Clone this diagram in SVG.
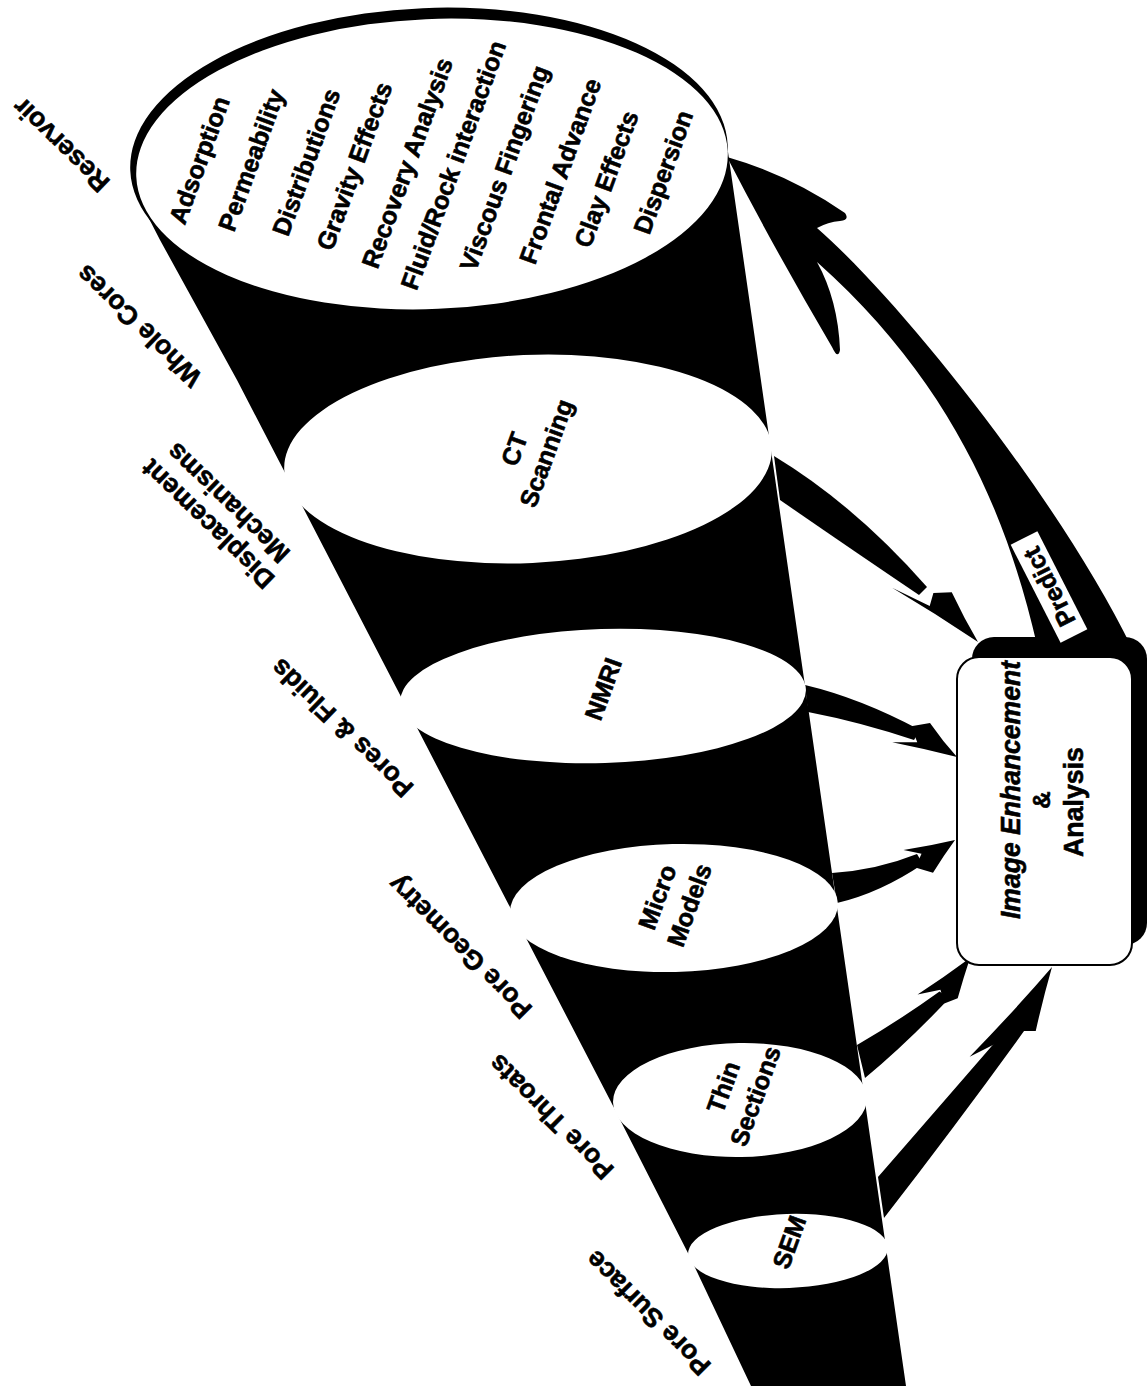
<svg xmlns="http://www.w3.org/2000/svg" width="1147" height="1386" viewBox="0 0 1147 1386">
<style>
.blk{fill:#000}
.wht{fill:#fff}
.t{font-family:"Liberation Sans",Arial,Helvetica,sans-serif;font-weight:bold;fill:#000;stroke:#000;stroke-width:0.6;text-anchor:middle}
.et{font-size:25px}
.lb{font-size:26.5px}
.bx{font-size:27px}
</style>
<rect width="1147" height="1386" fill="#fff"/>
<g id="cone">
<path class="blk" d="M300,160 L142,205 L160,240 L237,380 L470,830 L610,1100 L690,1257 L751,1386 L906,1386 L728,152 Z"/>
</g>
<g id="connectors">
<path id="arrow-ct" class="blk" d="M774,456 Q855,505 927,587 L919,595 Q845,545 780,500 Z"/>
<path class="blk" transform="translate(978,642) rotate(42.5)" d="M0,0 Q-26,-8 -53,-19 L-66,-6 L-60,6 L-100,18 Q-50,7.5 0,0 Z"/>
<path id="arrow-nmri" class="blk" d="M805,685 Q860,698 920,730 L914,740 Q860,722 808,712 Z"/>
<path class="blk" transform="translate(957,757) rotate(28.6)" d="M0,0 Q-20,-7 -40,-17 L-55,-5 L-42,6 L-64,18 Q-32,8 0,0 Z"/>
<path id="arrow-micro" class="blk" d="M832,873 Q877,870 917,854 L923,864 Q880,893 837,903 Z"/>
<path class="blk" transform="translate(955,840) rotate(-28.8)" d="M0,0 Q-25,-7 -50,-16 L-36,-4 L-48,5 L-35,18 Q-17,8 0,0 Z"/>
<path id="arrow-thin" class="blk" d="M857,1045 Q900,1020 939.5,991.5 L949.3,998.3 Q905,1045 865,1078 Z"/>
<path class="blk" transform="translate(970,958) rotate(-55)" d="M0,0 Q-30,-10 -60,-22 L-43,-6 L-52,5 L-40,13 Q-20,6 0,0 Z"/>
<path id="arrow-sem" class="blk" d="M878,1177 Q945,1100 1017.4,1016.5 L1029.8,1023.1 Q960,1120 884,1218 Z"/>
<path class="blk" transform="translate(1052,967) rotate(-61.7)" d="M0,0 Q-59,-13 -118,-30 L-88,-9 L-70,5 L-64,16 Q-32,7 0,0 Z"/>
<path id="arrow-predict" class="blk" d="M727,157 Q790,175 845,213 Q850,220 840,221 Q828,222 817,228 C900,300 1060,500 1132,648 L1130,652 L1037,652 L1037,645 C1008,520 955,385 817,262 Q838,300 840,350 Q838,360 832,347 Q775,250 727,157 Z"/>
</g>
<g id="reservoir">
<ellipse class="blk" cx="429" cy="158" rx="299" ry="150" transform="rotate(-2.4 429 158)"/>
<ellipse class="wht" cx="432" cy="164" rx="296" ry="145" transform="rotate(-2.4 432 164)"/>
<text class="t et" transform="translate(199,160) rotate(-70)" y="9">Adsorption</text>
<text class="t et" transform="translate(251,160) rotate(-70)" y="9">Permeability</text>
<text class="t et" transform="translate(306,162) rotate(-70)" y="9">Distributions</text>
<text class="t et" transform="translate(354,166) rotate(-70)" y="9">Gravity Effects</text>
<text class="t et" transform="translate(407,163) rotate(-70)" y="9">Recovery Analysis</text>
<text class="t et" transform="translate(453,165) rotate(-70)" y="9">Fluid/Rock interaction</text>
<text class="t et" transform="translate(504,168) rotate(-70)" y="9">Viscous Fingering</text>
<text class="t et" transform="translate(560,171) rotate(-70)" y="9">Frontal Advance</text>
<text class="t et" transform="translate(606,179) rotate(-70)" y="9">Clay Effects</text>
<text class="t et" transform="translate(663,172) rotate(-70)" y="9">Dispersion</text>
</g>
<g id="ct">
<ellipse class="wht" cx="528" cy="459" rx="244" ry="104" transform="rotate(-2.5 528 459)"/>
<text class="t et" transform="translate(514,449) rotate(-70)" y="9">CT</text>
<text class="t et" transform="translate(546,453) rotate(-70)" y="9">Scanning</text>
</g>
<g id="nmri">
<ellipse class="wht" cx="603" cy="696" rx="203" ry="67" transform="rotate(-1.8 603 696)"/>
<text class="t et" transform="translate(603,689) rotate(-70)" y="9">NMRI</text>
</g>
<g id="micro">
<ellipse class="wht" cx="674" cy="908" rx="164" ry="64" transform="rotate(-1.5 674 908)"/>
<text class="t et" transform="translate(657,897) rotate(-70)" y="9">Micro</text>
<text class="t et" transform="translate(689,905) rotate(-70)" y="9">Models</text>
</g>
<g id="thin">
<ellipse class="wht" cx="740" cy="1100" rx="127" ry="57" transform="rotate(-1 740 1100)"/>
<text class="t et" transform="translate(723,1087) rotate(-70)" y="9">Thin</text>
<text class="t et" transform="translate(755,1096) rotate(-70)" y="9">Sections</text>
</g>
<g id="sem">
<ellipse class="wht" cx="788" cy="1251" rx="100" ry="37" transform="rotate(-2 788 1251)"/>
<text class="t et" transform="translate(789,1242) rotate(-70)" y="9">SEM</text>
</g>
<g id="analysis">
<rect class="blk" x="972" y="637" width="175" height="308" rx="22"/>
<rect x="957" y="657" width="175" height="308" rx="22" fill="#fff" stroke="#000" stroke-width="2"/>
<text class="t" style="font-size:28px" font-style="italic" textLength="258" lengthAdjust="spacingAndGlyphs" transform="translate(1020,790) rotate(-90)">Image Enhancement</text>
<text class="t" style="font-size:24px" transform="translate(1050,800) rotate(-90)">&amp;</text>
<text class="t" style="font-size:27px" textLength="110" lengthAdjust="spacingAndGlyphs" transform="translate(1083,802) rotate(-90)">Analysis</text>
</g>
<g id="predict-label" transform="translate(1049,587) rotate(63)">
<rect x="-55" y="-15" width="110" height="30" fill="#fff"/>
<text class="t" style="font-size:25px" transform="rotate(180)" y="9">Predict</text>
</g>
<g id="scale-labels">
<text class="t lb" transform="translate(61,145) rotate(-136)" y="9">Reservoir</text>
<text class="t lb" transform="translate(139,326) rotate(-136)" y="9">Whole Cores</text>
<text class="t lb" transform="translate(208,524) rotate(-136)" y="9">Displacement</text>
<text class="t lb" transform="translate(228,503) rotate(-136)" y="9">Mechanisms</text>
<text class="t lb" transform="translate(342,728) rotate(-136)" y="9">Pores &amp; Fluids</text>
<text class="t lb" transform="translate(460,947) rotate(-135)" y="9">Pore Geometry</text>
<text class="t lb" transform="translate(551,1117) rotate(-135)" y="9">Pore Throats</text>
<text class="t lb" transform="translate(648,1313) rotate(-135)" y="9">Pore Surface</text>
</g>
</svg>
